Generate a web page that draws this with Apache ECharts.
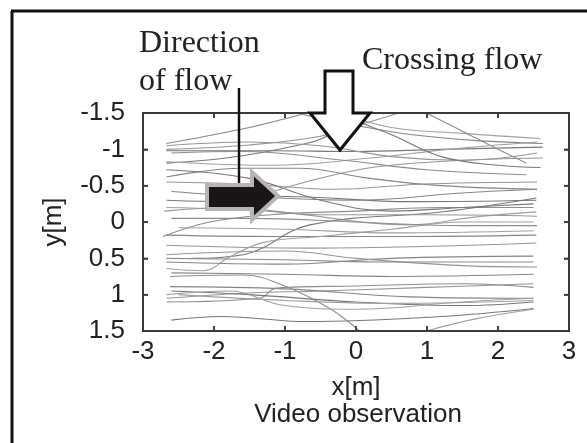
<!DOCTYPE html>
<html><head><meta charset="utf-8">
<script src="https://cdn.jsdelivr.net/npm/echarts@6/dist/echarts.min.js"></script>
<style>html,body{margin:0;padding:0;background:#fff}#c{width:587px;height:443px}</style>
</head><body><div id="c"></div>
<script>
// Tick labels
const xTicks = [-3, -2, -1, 0, 1, 2, 3];
const xTickLabels = ['-3', '-2', '-1', '0', '1', '2', '3'];
const yTicks = [-1.5, -1, -0.5, 0, 0.5, 1, 1.5];
const yTickLabels = ['-1.5', '-1', '-0.5', '0', '0.5', '1', '1.5'];
const xLabel = 'x[m]';
const yLabel = 'y[m]';
const caption = 'Video observation';
const noteDirection = ['Direction', 'of flow'];
const noteCrossing = 'Crossing flow';

// Pedestrian trajectories [x, y] in metres
const t01 = [[-2.67,-1.08],[-1.6,-1.28],[-1.0,-1.42],[-0.7,-1.5]];
const t02 = [[-2.67,-1.0],[-1.5,-1.06],[-0.5,-1.18],[0.1,-1.35],[0.6,-1.5]];
const t03 = [[-2.67,-0.98],[-1.2,-0.98],[0.0,-0.97],[1.2,-1.0],[2.63,-1.03]];
const t04 = [[-0.2,-1.5],[0.5,-1.3],[1.5,-1.22],[2.6,-1.15]];
const t05 = [[0.99,-1.5],[1.5,-1.25],[2.0,-1.0],[2.4,-0.81]];
const t06 = [[-0.75,-1.48],[0.0,-1.33],[0.8,-1.2],[1.7,-1.12],[2.63,-1.08]];
const t07 = [[-1.6,-0.25],[-1.03,-0.46],[-0.3,-0.65],[0.3,-0.76],[1.3,-0.84],[2.63,-0.88]];
const t08 = [[-2.67,-0.81],[-1.83,-0.88],[-0.9,-1.04],[-0.37,-1.2],[-0.05,-1.5]];
const t09 = [[-2.67,-0.83],[-1.2,-0.78],[0.2,-0.88],[1.3,-1.0],[2.55,-1.1]];
const t10 = [[-2.6,-0.95],[-1.59,-0.97],[-0.18,-0.85],[0.99,-0.72],[2.4,-0.65]];
const t11 = [[-2.67,-0.62],[-1.6,-0.74],[-0.8,-0.74],[0.2,-0.6],[1.2,-0.5],[2.55,-0.45]];
const t12 = [[-2.67,-0.55],[-1.5,-0.52],[-0.3,-0.45],[0.9,-0.52],[2.55,-0.55]];
const t13 = [[-2.67,-0.30],[-1.8,-0.28],[-1.0,-0.35],[0.76,-0.28],[2.54,-0.30]];
const t14 = [[-2.67,-0.2],[-1.12,-0.14],[0.76,0.04],[1.69,-0.07],[2.54,-0.14]];
const t15 = [[-2.72,0.2],[-2.06,0.0],[-1.2,-0.1],[0.0,-0.15],[1.2,-0.2],[2.5,-0.2]];
const t16 = [[-2.67,0.18],[-1.0,0.2],[0.5,0.2],[2.54,0.18]];
const t17 = [[-2.67,0.32],[-0.6,0.36],[2.54,0.29]];
const t18 = [[-2.3,0.5],[-1.59,0.45],[-0.65,0.04],[1.23,-0.14],[2.54,-0.33]];
const t19 = [[-2.67,0.64],[-2.15,0.67],[-1.78,0.48],[-1.3,0.28],[-0.5,0.2],[0.5,0.1],[1.5,0.0],[2.5,0.0]];
const t20 = [[-2.62,0.75],[-1.59,0.73],[-1.03,0.87],[-0.37,1.19],[0.05,1.5]];
const t21 = [[-2.62,0.89],[-1.0,0.92],[0.76,1.03],[2.5,1.05]];
const t22 = [[-2.67,1.05],[-1.59,0.98],[-0.5,0.95],[1.0,0.9],[2.5,0.85]];
const t23 = [[-2.6,1.35],[-1.9,1.3],[-0.7,1.37],[1.2,1.3],[2.5,1.19]];
const t24 = [[0.99,1.5],[1.7,1.33],[2.5,1.2]];
const t25 = [[-2.67,1.1],[-1.36,1.05],[-1.12,0.91],[0.0,0.88],[1.5,0.85],[2.5,0.9]];
const t26 = [[-2.67,0.55],[-1.0,0.58],[0.5,0.5],[2.5,0.47]];
const t27 = [[-2.67,0.45],[-1.0,0.4],[0.0,0.5],[1.5,0.6],[2.55,0.62]];
const t28 = [[-2.6,0.95],[-1.5,1.0],[0.0,1.1],[1.5,1.15],[2.5,1.1]];
const t29 = [[-2.5,1.0],[-1.0,1.08],[0.5,1.12],[2.5,1.08]];
const t30 = [[-2.6,-0.05],[-1.5,-0.05],[0.0,0.0],[1.5,0.05],[2.55,0.05]];
const t31 = [[-2.6,-0.42],[-1.5,-0.35],[0.0,-0.3],[1.5,-0.4],[2.55,-0.45]];
const t32 = [[-2.7,-0.15],[-1.8,-0.2],[-0.5,-0.1],[1.0,-0.1],[2.55,-0.08]];
const t33 = [[-2.67,-0.72],[-1.5,-0.6],[-0.5,-0.3],[0.5,-0.15],[1.5,-0.2],[2.5,-0.25]];
const t34 = [[-2.5,0.08],[-1.0,0.1],[0.5,0.15],[2.5,0.12]];
const t35 = [[-2.67,0.5],[-1.0,0.52],[0.3,0.55],[2.5,0.55]];
const t36 = [[-2.6,0.7],[-1.0,0.72],[0.5,0.75],[2.5,0.72]];
const t37 = [[-2.67,-1.05],[-1.5,-1.1],[-0.5,-1.05],[0.5,-0.9],[1.5,-0.85],[2.55,-0.95]];
const t38 = [[-0.3,-1.5],[0.5,-1.2],[1.2,-0.9],[2.0,-0.78],[2.6,-0.75]];
const t39 = [[-2.67,1.0],[-1.8,0.95],[-1.0,1.15],[0.0,1.2],[1.5,1.1],[2.5,1.05]];
const trajectories = [t01,t02,t03,t04,t05,t06,t07,t08,t09,t10,t11,t12,t13,t14,t15,t16,t17,t18,t19,t20,
  t21,t22,t23,t24,t25,t26,t27,t28,t29,t30,t31,t32,t33,t34,t35,t36,t37,t38,t39];

const grays = ['#858585','#959595','#777777','#a0a0a0','#8c8c8c'];
const chart = echarts.init(document.getElementById('c'));
const labelFont = () => ({fontFamily:'Liberation Sans', fontSize:26, color:'#222'});
const fmtX = v => { const i = xTicks.findIndex(t => Math.abs(t - v) < 1e-9); return i >= 0 ? xTickLabels[i] : ''; };
const fmtY = v => { const i = yTicks.findIndex(t => Math.abs(t - v) < 1e-9); return i >= 0 ? yTickLabels[i] : ''; };

const xMin = xTicks[0], xMax = xTicks[xTicks.length - 1];
const yMin = yTicks[0], yMax = yTicks[yTicks.length - 1];
const G = {left:143, right:18, top:113, bottom:112};
const W = 587, H = 443;
const PW = W - G.left - G.right, PH = H - G.top - G.bottom;
const axisLineStyle = () => ({show:true, onZero:false, lineStyle:{color:'#333', width:2}});
const tickStyle = () => ({show:true, inside:true, length:5, lineStyle:{color:'#333', width:1.5}});

// frame as four filled bars, ticks as small filled bars (positions from axis scale)
const fc = '#3a3a3a';
const frameBars = [
  {type:'rect', z:60, shape:{x:G.left - 1, y:G.top - 1, width:PW + 2, height:2}, style:{fill:fc}},
  {type:'rect', z:60, shape:{x:G.left - 1, y:G.top + PH - 1, width:PW + 2, height:2}, style:{fill:fc}},
  {type:'rect', z:60, shape:{x:G.left - 1, y:G.top - 1, width:2, height:PH + 2}, style:{fill:fc}},
  {type:'rect', z:60, shape:{x:G.left + PW - 1, y:G.top - 1, width:2, height:PH + 2}, style:{fill:fc}}
];
xTicks.forEach(v => {
  const px = G.left + (v - xMin) / (xMax - xMin) * PW;
  frameBars.push({type:'rect', z:60, shape:{x:px - 0.75, y:G.top, width:1.5, height:5}, style:{fill:fc}});
  frameBars.push({type:'rect', z:60, shape:{x:px - 0.75, y:G.top + PH - 5, width:1.5, height:5}, style:{fill:fc}});
});
yTicks.forEach(v => {
  const py = G.top + (v - yMin) / (yMax - yMin) * PH;
  frameBars.push({type:'rect', z:60, shape:{x:G.left, y:py - 0.75, width:5, height:1.5}, style:{fill:fc}});
  frameBars.push({type:'rect', z:60, shape:{x:G.left + PW - 5, y:py - 0.75, width:5, height:1.5}, style:{fill:fc}});
});

chart.setOption({
  animation:false,
  grid:Object.assign({containLabel:false}, G),
  xAxis:[
    {type:'value', min:xMin, max:xMax, interval:1, position:'bottom',
     axisLine:axisLineStyle(), axisTick:tickStyle(), splitLine:{show:false},
     axisLabel:Object.assign({margin:8, formatter:fmtX}, labelFont()),
     name:xLabel, nameLocation:'middle', nameGap:44, nameTextStyle:labelFont()},
    {type:'value', min:xMin, max:xMax, interval:1, position:'top',
     axisLine:axisLineStyle(), axisTick:tickStyle(), splitLine:{show:false}, axisLabel:{show:false}}
  ],
  yAxis:[
    {type:'value', min:yMin, max:yMax, interval:0.5, inverse:true, position:'left',
     axisLine:axisLineStyle(), axisTick:tickStyle(), splitLine:{show:false},
     axisLabel:Object.assign({margin:18, formatter:fmtY}, labelFont()),
     name:yLabel, nameLocation:'middle', nameGap:76, nameTextStyle:labelFont()},
    {type:'value', min:yMin, max:yMax, interval:0.5, inverse:true, position:'right',
     axisLine:axisLineStyle(), axisTick:tickStyle(), splitLine:{show:false}, axisLabel:{show:false}}
  ],
  series: trajectories.map((d, i) => ({
    type:'line', data:d, smooth:0.4, symbol:'none', silent:true,
    lineStyle:{color:grays[i % grays.length], width:1.1}
  })),
  graphic: frameBars.concat([
    {type:'line', shape:{x1:11, y1:11, x2:587, y2:11}, style:{stroke:'#111', lineWidth:3}},
    {type:'line', shape:{x1:12, y1:11, x2:12, y2:443}, style:{stroke:'#111', lineWidth:3}},
    {type:'text', x:139, y:28, style:{text:noteDirection[0], font:'32px "Liberation Serif"', fill:'#222'}},
    {type:'text', x:139, y:66, style:{text:noteDirection[1], font:'32px "Liberation Serif"', fill:'#222'}},
    {type:'text', x:362, y:45, style:{text:noteCrossing, font:'32px "Liberation Serif"', fill:'#222'}},
    {type:'line', z:100, shape:{x1:239, y1:88, x2:239, y2:186}, style:{stroke:'#111', lineWidth:2.5}},
    {type:'polygon', z:100, shape:{points:[[207,185],[252,185],[252,172],[278,196],[252,220],[252,209],[207,209]]},
     style:{fill:'#1b1616', stroke:'#b5b5b5', lineWidth:4}},
    {type:'polygon', z:101, shape:{points:[[325,71],[353,71],[353,113],[370,113],[340,150],[310,113],[325,113]]},
     style:{fill:'#fff', stroke:'#111', lineWidth:3}},
    {type:'text', z:100, x:358, y:402, style:{text:caption, font:'26px "Liberation Sans"', fill:'#222', textAlign:'center', textVerticalAlign:'top'}}
  ])
});
</script></body></html>
